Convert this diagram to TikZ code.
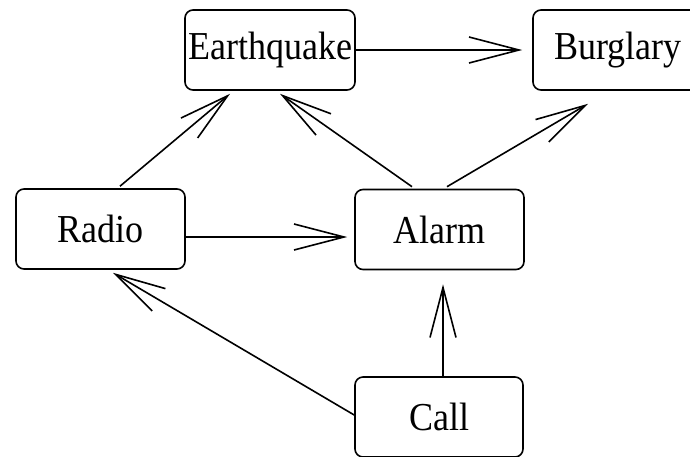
\documentclass[tikz,border=0pt]{standalone}
\usepackage{fontspec}
\setmainfont{Liberation Serif}
\usetikzlibrary{arrows.meta}
\begin{document}
\begin{tikzpicture}[x=1pt,y=-1pt,
  var/.style={draw, line width=1.6pt, rounded corners=8pt, inner sep=0pt,
    minimum width=170pt, minimum height=80pt,
    font=\fontsize{36pt}{40pt}\selectfont},
  arr/.style={line width=1.6pt,
    -{Straight Barb[length=50pt,width=26pt,line width=1.6pt]}}]
  \useasboundingbox (0,0) rectangle (690,456);
  \clip (0,0) rectangle (690,456);
  \fill[white] (0,0) rectangle (690,456);

  % variables of the network
  \node[var] (eq)    at (270,50)  {\scalebox{1}[1.1]{Earthquake}};
  \node[var] (bur)   at (618,50)  {\scalebox{1}[1.1]{Burglary}};
  \node[var, minimum width=169pt] (radio) at (100.5,229) {\scalebox{1}[1.1]{Radio}};
  \node[var, minimum width=169pt] (alarm) at (439.5,229.5) {\scalebox{1}[1.1]{Alarm}};
  \node[var, minimum width=168pt] (call)  at (439,417) {\scalebox{1}[1.1]{Call}};

  % dependencies
  \draw[arr] (eq.east) -- ([xshift=-10pt]bur.west);
  \draw[arr] ([xshift=19.5pt,yshift=2pt]radio.north) -- ([xshift=-40pt,yshift=-3pt]eq.south);
  \draw[arr] ([xshift=-27.5pt,yshift=2pt]alarm.north) -- ([xshift=10pt,yshift=-3pt]eq.south);
  \draw[arr] ([xshift=7.5pt,yshift=2pt]alarm.north) -- ([xshift=-30pt,yshift=-13pt]bur.south);
  \draw[arr, shorten >=7pt] ([yshift=-8pt]radio.east) -- ([yshift=-8pt]radio.east -| alarm.west);
  \draw[arr, shorten >=14pt] ([xshift=4pt]call.north) -- ([xshift=4pt]call.north |- alarm.south);
  \draw[arr] ([yshift=2pt]call.west) -- ([xshift=12.5pt,yshift=-3pt]radio.south);
\end{tikzpicture}
\end{document}
